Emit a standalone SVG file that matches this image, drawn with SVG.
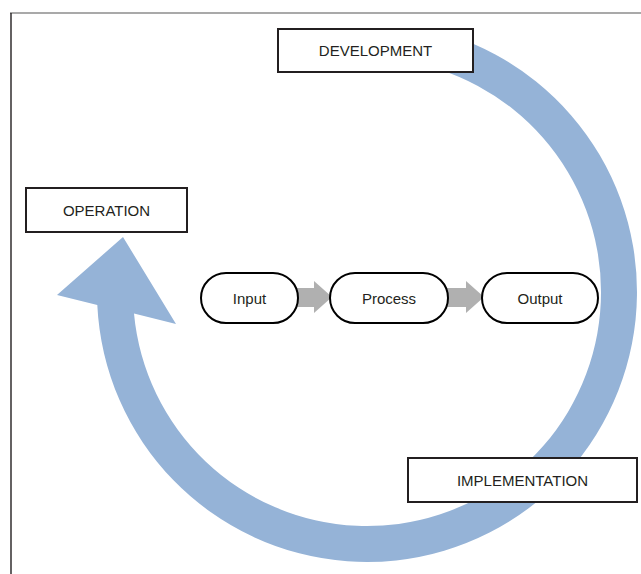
<svg xmlns="http://www.w3.org/2000/svg" width="641" height="574" viewBox="0 0 641 574">
<style>
.box{fill:#fff;stroke:#231f20;stroke-width:2}
.pill{fill:#fff;stroke:#000;stroke-width:2}
.lbl{font-family:"Liberation Sans",Arial,sans-serif;font-size:15px;fill:#231f20;text-anchor:middle;dominant-baseline:central}
.garrow{fill:#b0b0b0}
</style>
<rect width="641" height="574" fill="#fff"/>
<g id="frame">
<line x1="10" y1="13" x2="641" y2="13" stroke="#8c8c8c" stroke-width="1.4"/>
<line x1="11" y1="13" x2="11" y2="574" stroke="#231f20" stroke-width="1.4"/>
</g>
<g id="connectors">
<path id="cycle" fill="#95b3d7" d="M 450.4 35.2 A 270 270 0 1 1 97.3 305 L 57 295 L 123 237 L 176 324 L 134 313.5 A 234 234 0 1 0 439.3 69.5 Z"/>
<path class="garrow" d="M 296 288 L 314 288 L 314 281 L 332 297 L 314 313 L 314 307 L 296 307 Z"/>
<path class="garrow" d="M 447 288 L 466 288 L 466 281 L 484 297 L 466 313 L 466 307 L 447 307 Z"/>
</g>
<g id="development">
<rect class="box" x="278" y="29" width="195" height="43"/>
<text class="lbl" x="375.5" y="50.5">DEVELOPMENT</text>
</g>
<g id="operation">
<rect class="box" x="26" y="188" width="161" height="44"/>
<text class="lbl" x="106.5" y="210">OPERATION</text>
</g>
<g id="implementation">
<rect class="box" x="408" y="458" width="229" height="44"/>
<text class="lbl" x="522.5" y="480">IMPLEMENTATION</text>
</g>
<g id="input">
<rect class="pill" x="201" y="273" width="97" height="50" rx="25"/>
<text class="lbl" x="249.5" y="298">Input</text>
</g>
<g id="process">
<rect class="pill" x="330" y="273" width="118" height="50" rx="25"/>
<text class="lbl" x="389" y="298">Process</text>
</g>
<g id="output">
<rect class="pill" x="482" y="273" width="116" height="50" rx="25"/>
<text class="lbl" x="540" y="298">Output</text>
</g>
</svg>
